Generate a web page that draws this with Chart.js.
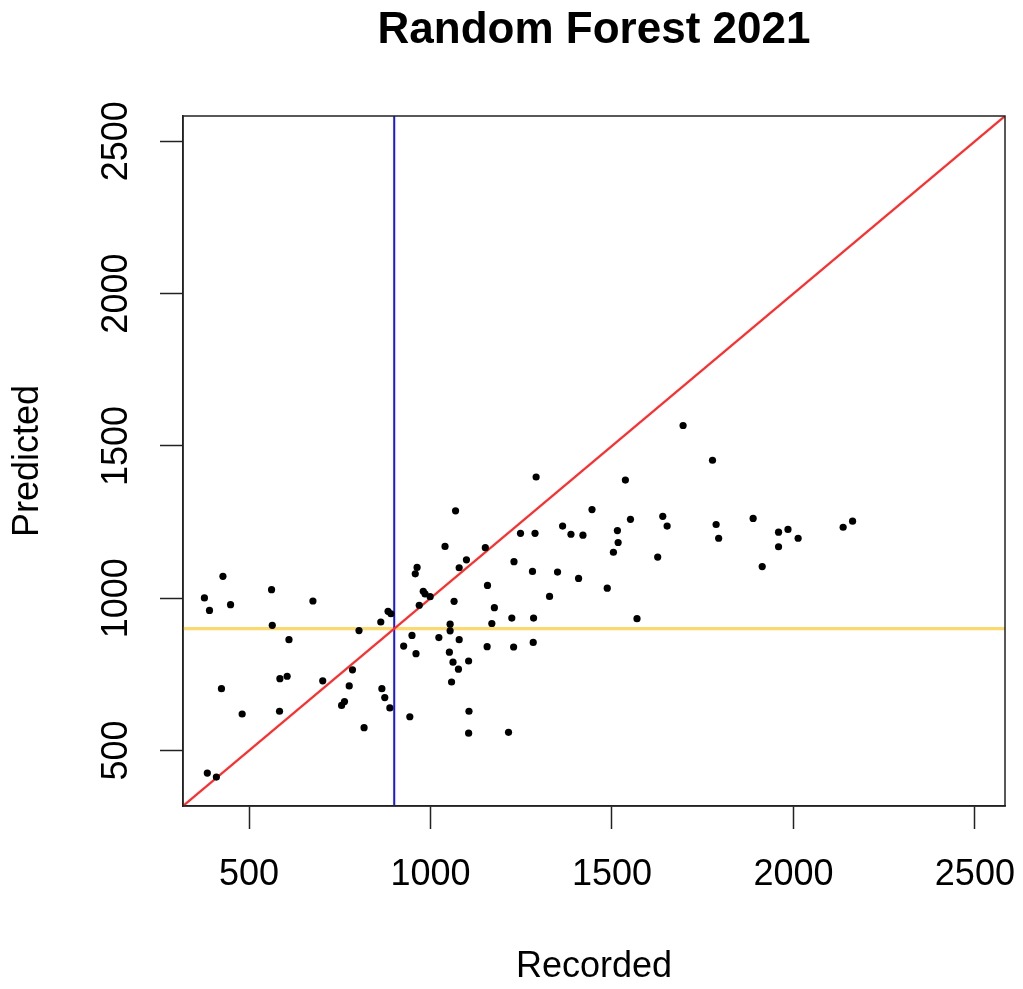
<!DOCTYPE html>
<html>
<head>
<meta charset="utf-8">
<title>Random Forest 2021</title>
<script src="https://cdn.jsdelivr.net/npm/chart.js@4"></script>
<style>
    html, body { margin: 0; padding: 0; background: #fff; }
    #wrap { width: 1023px; height: 989px; position: relative; }
</style>
</head>
<body>
<div id="wrap"><canvas id="rfChart"></canvas></div>
<script>
const recorded = [428, 377, 391, 449, 562, 676, 564, 610, 803, 863,
    883, 891, 926, 424, 585, 605, 703, 785, 776, 866,
    874, 888, 763, 755, 481, 584, 817, 943, 385, 410,
    1364, 1248, 1288, 1387, 1420, 1515, 1517, 1504, 1040, 1151,
    963, 958, 1099, 1079, 1230, 1281, 1350, 1408, 1487, 980,
    985, 999, 969, 1157, 1065, 1176, 1328, 1224, 1284, 1169,
    1054, 1054, 949, 960, 1023, 1079, 1052, 1156, 1229, 1283,
    1062, 1105, 1077, 1058, 1106, 1105, 1215, 1696, 1777, 1537,
    1551, 1640, 1652, 1626, 1787, 1794, 1889, 1959, 1985, 1959,
    2013, 1914, 2137, 2163, 1569, 1291, 1069, 1445];
const predicted = [1072, 1001, 960, 979, 1028, 991, 911, 864, 894, 922,
    957, 949, 843, 703, 736, 744, 729, 765, 712, 703,
    674, 640, 661, 648, 620, 629, 575, 611, 426, 413,
    1237, 1213, 1213, 1210, 1207, 1222, 1183, 1151, 1170, 1166,
    1101, 1080, 1126, 1100, 1120, 1088, 1086, 1065, 1033, 1023,
    1014, 1005, 977, 1042, 990, 969, 1006, 935, 935, 917,
    915, 893, 878, 818, 871, 864, 823, 841, 840, 855,
    790, 794, 767, 725, 629, 557, 560, 1567, 1453, 1388,
    1259, 1269, 1237, 1135, 1242, 1197, 1262, 1217, 1226, 1169,
    1197, 1104, 1233, 1253, 933, 1398, 1287, 1291];

const axisRange = [318, 2583];
const tickValues = [500, 1000, 1500, 2000, 2500];
const threshold = 900;

const FONT = '"Liberation Sans", Arial, Helvetica, sans-serif';
Chart.defaults.color = '#000';
Chart.defaults.font.family = FONT;

const points = recorded.map((r, i) => ({ x: r, y: predicted[i] }));

// plot frame, like R's box()
const boxPlugin = {
    id: 'box',
    afterDatasetsDraw(chart) {
        const a = chart.chartArea;
        const c = chart.ctx;
        c.save();
        c.strokeStyle = '#222';
        c.lineWidth = 1.5;
        c.strokeRect(a.left, a.top, a.right - a.left, a.bottom - a.top);
        c.restore();
    }
};

function axisOpts(title, isY) {
    return {
        type: 'linear',
        min: axisRange[0],
        max: axisRange[1],
        afterBuildTicks: (s) => { s.ticks = tickValues.map(v => ({ value: v })); },
        afterFit: (s) => {
            if (isY) {
                s.width = 183;
                s.paddingTop = 0;
                s.paddingBottom = 0;
            } else {
                s.height = 183;
                s.paddingLeft = 0;
                s.paddingRight = 0;
            }
        },
        grid: {
            drawOnChartArea: false,
            drawTicks: true,
            tickLength: 23,
            tickColor: '#222',
            tickWidth: 1.5
        },
        border: { display: true, color: '#222', width: 1.5 },
        ticks: isY ? {
            minRotation: 90,
            maxRotation: 90,
            crossAlign: 'center',
            padding: 3,
            font: { size: 36 },
            callback: (v) => String(v)
        } : {
            padding: 24,
            maxRotation: 0,
            font: { size: 36 },
            callback: (v) => String(v)
        },
        title: {
            display: true,
            text: title,
            font: { size: 36 },
            padding: isY ? { top: 6, bottom: 0 } : { top: 0, bottom: 0 }
        }
    };
}

const ctx = document.getElementById('rfChart').getContext('2d');
const rfChart = new Chart(ctx, {
    type: 'scatter',
    data: {
        datasets: [{
            label: 'Random Forest',
            data: points,
            backgroundColor: '#000',
            borderWidth: 0,
            pointRadius: 3.6,
            order: 0
        }, {
            type: 'line',
            label: '1:1',
            data: axisRange.map(v => ({ x: v, y: v })),
            borderColor: 'rgb(255, 45, 45)',
            borderWidth: 2.2,
            pointRadius: 0,
            order: 1
        }, {
            type: 'line',
            label: 'recorded threshold',
            data: axisRange.map(v => ({ x: threshold, y: v })),
            borderColor: 'rgb(20, 20, 255)',
            borderWidth: 2,
            pointRadius: 0,
            order: 1
        }, {
            type: 'line',
            label: 'predicted threshold',
            data: axisRange.map(v => ({ x: v, y: threshold })),
            borderColor: 'rgb(250, 218, 110)',
            borderWidth: 3.2,
            pointRadius: 0,
            order: 1
        }]
    },
    options: {
        responsive: true,
        maintainAspectRatio: false,
        animation: false,
        layout: {
            padding: { left: 0, right: 18, top: 0, bottom: 0 }
        },
        plugins: {
            legend: { display: false },
            tooltip: { enabled: false },
            title: {
                display: true,
                text: 'Random Forest 2021',
                fullSize: false,
                font: { size: 44, weight: 'bold' },
                padding: { top: 4, bottom: 59.2 }
            }
        },
        scales: {
            x: axisOpts('Recorded', false),
            y: axisOpts('Predicted', true)
        }
    },
    plugins: [boxPlugin]
});
</script>
</body>
</html>
